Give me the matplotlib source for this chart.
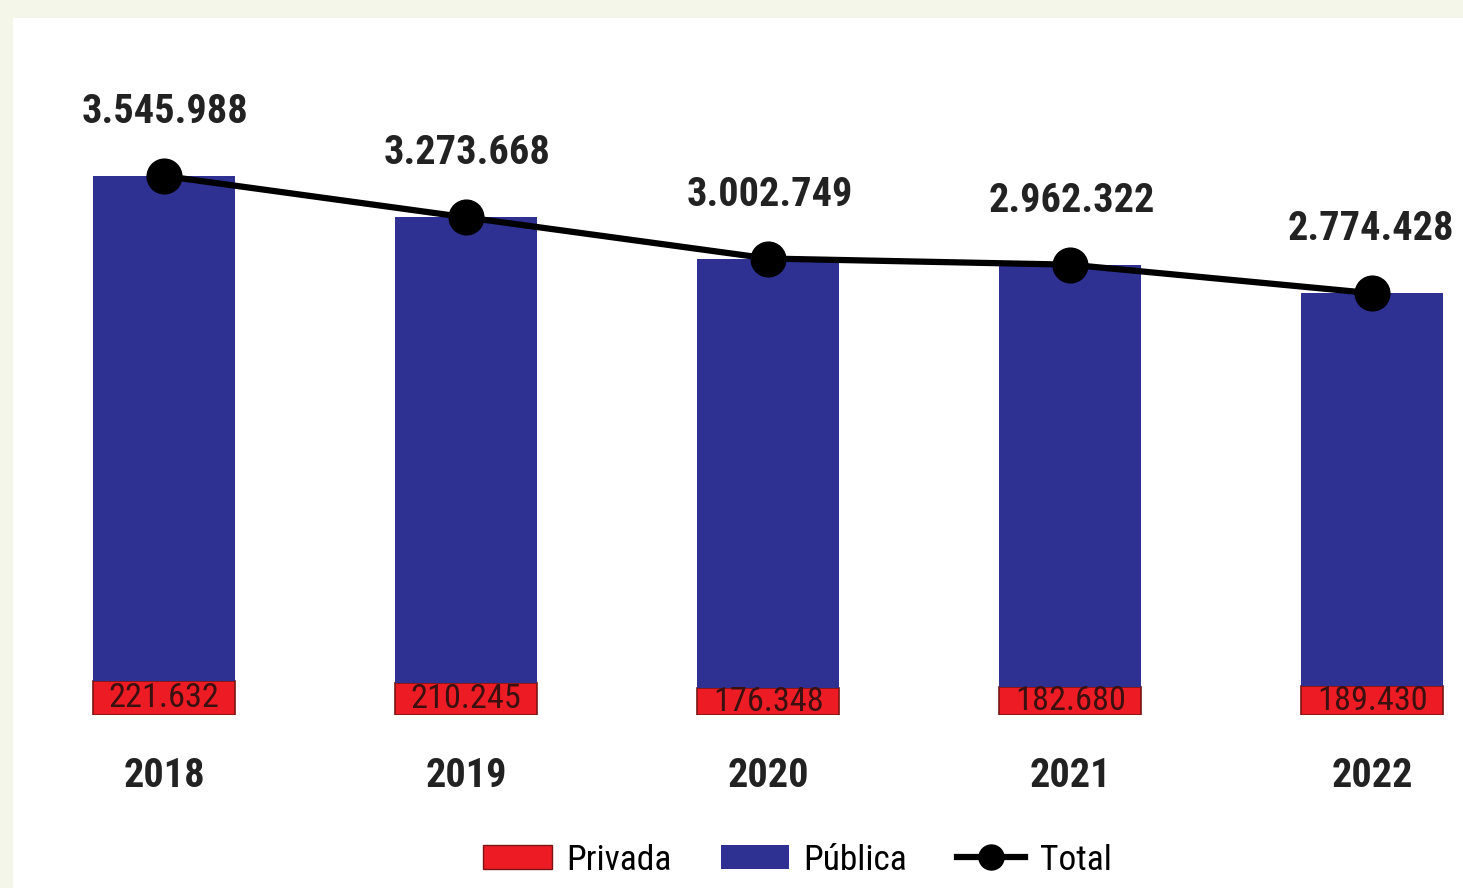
import matplotlib
matplotlib.use("Agg")
import matplotlib.pyplot as plt
import matplotlib.patches as mpatches
from matplotlib.lines import Line2D
from matplotlib import font_manager
import numpy as np

years = ["2018", "2019", "2020", "2021", "2022"]
total = [3545988, 3273668, 3002749, 2962322, 2774428]
privada = [221632, 210245, 176348, 182680, 189430]
publica = [t - p for t, p in zip(total, privada)]


def fmt(v):
    return f"{v:,}".replace(",", ".")


# condensed face if there is one, else plain Liberation Sans a bit smaller
names = {f.name for f in font_manager.fontManager.ttflist}
narrow = [n for n in ['Liberation Sans Narrow', 'Roboto Condensed', 'DejaVu Sans Condensed', 'Open Sans Condensed'] if n in names]
if narrow:
    fam = narrow[0]
    k = 0.88
else:
    fam = 'Liberation Sans'
    k = 0.72
plt.rcParams['font.family'] = [fam, 'DejaVu Sans']

fig = plt.figure(figsize=(14.63, 8.88), dpi=100)
fig.patch.set_facecolor('#f4f6ea')
# white panel (light border on left and top)
fig.patches.append(mpatches.Rectangle((13 / 1463, 0), 1, (888 - 18) / 888,
                                      transform=fig.transFigure, facecolor='white',
                                      edgecolor='none', zorder=-1))

ax = fig.add_axes([13 / 1463, (888 - 715) / 888, 1 - 13 / 1463, (715 - 18) / 888])
ax.set_facecolor('none')
ax.set_zorder(2)

X_axis = np.arange(len(years))
w = 0.47

ax.bar(X_axis, privada, w, color='#ed1c24', edgecolor='#7a1515', linewidth=1.2, zorder=2)
ax.bar(X_axis, publica, w, bottom=privada, color='#2e3192', zorder=2)
ax.plot(X_axis, total, color='black', linewidth=4.5, marker='o', markersize=25, zorder=3)

for i in range(len(years)):
    dx = 1 if i < len(years) - 1 else -1
    ax.annotate(fmt(total[i]), (X_axis[i], total[i]), xytext=(dx, 46), textcoords='offset points',
                ha='center', va='center', fontsize=33 * k, fontweight='bold', color='#222222',
                annotation_clip=False)
    ax.text(X_axis[i], privada[i] / 2, fmt(privada[i]), ha='center', va='center',
            fontsize=28 * k, color='#3a1010', zorder=4)

ax.set_xlim(-0.5, 4.3)
ax.set_ylim(0, 4.585e6)
ax.set_xticks(X_axis)
ax.set_xticklabels(years, fontsize=33 * k, fontweight='bold', color='#222222')
ax.tick_params(axis='x', length=0, pad=30)
ax.set_yticks([])
for s in ax.spines.values():
    s.set_visible(False)

handles = [mpatches.Patch(facecolor='#ed1c24', edgecolor='#7a1515', label='Privada'),
           mpatches.Patch(facecolor='#2e3192', label='Pública'),
           Line2D([], [], color='black', linewidth=4.5, marker='o', markersize=18, label='Total')]
fig.legend(handles=handles, loc='center', bbox_to_anchor=(0.545, 1 - 860 / 888), ncol=3,
           frameon=False, fontsize=29 * k, handlelength=1.7 / k, handleheight=0.6 / k,
           columnspacing=1.4, handletextpad=0.4)

fig.savefig("out.png", dpi=100, facecolor=fig.get_facecolor())
